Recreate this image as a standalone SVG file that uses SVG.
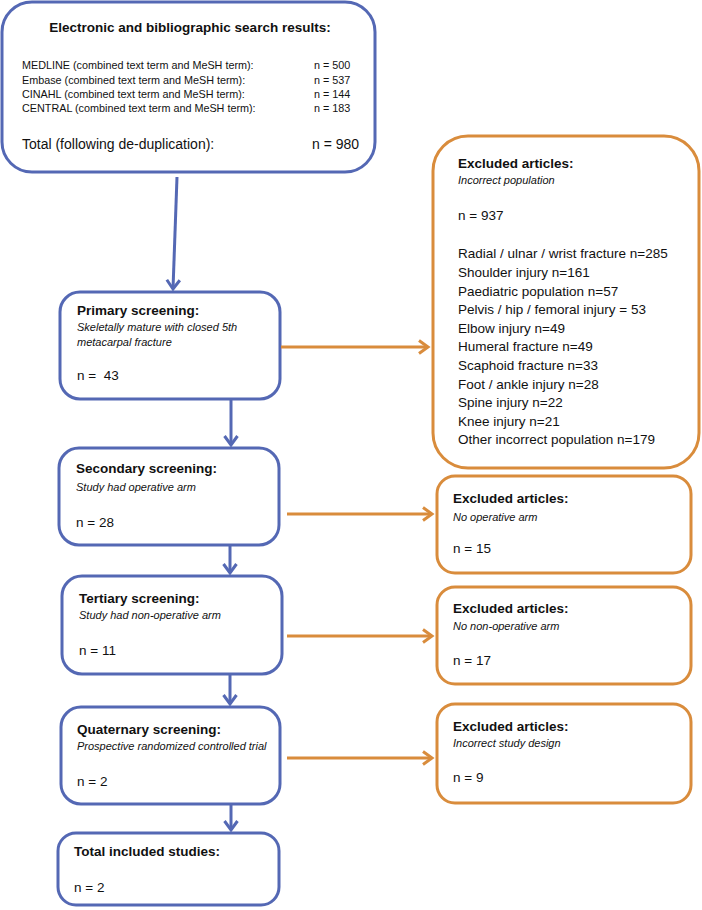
<svg xmlns="http://www.w3.org/2000/svg" width="702" height="910" viewBox="0 0 702 910">
<defs>
<style>
text{font-family:"Liberation Sans",Arial,sans-serif;fill:#111}
.b{fill:none;stroke:#5468b4;stroke-width:3}
.o{fill:none;stroke:#d98c3c;stroke-width:3}
.t{font-weight:bold;font-size:13.5px}
.i{font-style:italic;font-size:11px}
.n{font-size:13.5px}
.s{font-size:10.8px}
.cb{stroke:#5468b4;stroke-width:3;fill:none}
.co{stroke:#d98c3c;stroke-width:3;fill:none}
</style>
<marker id="ab" markerUnits="userSpaceOnUse" markerWidth="18" markerHeight="18" viewBox="0 0 18 18" refX="13" refY="9" orient="auto">
<path d="M4,2.5 L13,9 L4,15.5" fill="none" stroke="#5468b4" stroke-width="3"/>
</marker>
<marker id="ao" markerUnits="userSpaceOnUse" markerWidth="18" markerHeight="18" viewBox="0 0 18 18" refX="13" refY="9" orient="auto">
<path d="M4,2.5 L13,9 L4,15.5" fill="none" stroke="#d98c3c" stroke-width="3"/>
</marker>
</defs>
<rect width="702" height="910" fill="#fff"/>

<g id="search">
<rect class="b" x="2" y="2" width="373" height="170" rx="30"/>
<text class="t" x="190" y="32" text-anchor="middle">Electronic and bibliographic search results:</text>
<text class="s" x="22" y="69">MEDLINE (combined text term and MeSH term):</text>
<text class="s" x="314" y="69">n = 500</text>
<text class="s" x="22" y="84">Embase (combined text term and MeSH term):</text>
<text class="s" x="314" y="84">n = 537</text>
<text class="s" x="22" y="98">CINAHL (combined text term and MeSH term):</text>
<text class="s" x="314" y="98">n = 144</text>
<text class="s" x="22" y="112">CENTRAL (combined text term and MeSH term):</text>
<text class="s" x="314" y="112">n = 183</text>
<text x="22" y="149" font-size="14">Total (following de-duplication):</text>
<text x="312" y="149" font-size="14">n = 980</text>
</g>

<g id="primary">
<rect class="b" x="60" y="292" width="220" height="107" rx="20"/>
<text class="t" x="77" y="315">Primary screening:</text>
<text class="i" x="77" y="331">Skeletally mature with closed 5th</text>
<text class="i" x="77" y="346">metacarpal fracture</text>
<text class="n" x="77" y="380" xml:space="preserve">n =  43</text>
</g>

<g id="excl1">
<rect class="o" x="433" y="136" width="266" height="332" rx="35"/>
<text class="t" x="458" y="168">Excluded articles:</text>
<text class="i" x="458" y="184">Incorrect population</text>
<text class="n" x="458" y="220">n = 937</text>
<text class="n" x="458" y="258">Radial / ulnar / wrist fracture n=285</text>
<text class="n" x="458" y="277">Shoulder injury n=161</text>
<text class="n" x="458" y="296">Paediatric population n=57</text>
<text class="n" x="458" y="314">Pelvis / hip / femoral injury = 53</text>
<text class="n" x="458" y="333">Elbow injury n=49</text>
<text class="n" x="458" y="351">Humeral fracture n=49</text>
<text class="n" x="458" y="370">Scaphoid fracture n=33</text>
<text class="n" x="458" y="389">Foot / ankle injury n=28</text>
<text class="n" x="458" y="407">Spine injury n=22</text>
<text class="n" x="458" y="426">Knee injury n=21</text>
<text class="n" x="458" y="444">Other incorrect population n=179</text>
</g>

<g id="secondary">
<rect class="b" x="59" y="448" width="220" height="97" rx="20"/>
<text class="t" x="76" y="473">Secondary screening:</text>
<text class="i" x="76" y="491">Study had operative arm</text>
<text class="n" x="76" y="527">n = 28</text>
</g>

<g id="excl2">
<rect class="o" x="437" y="476" width="254" height="97" rx="18"/>
<text class="t" x="453" y="503">Excluded articles:</text>
<text class="i" x="453" y="521">No operative arm</text>
<text class="n" x="453" y="553">n = 15</text>
</g>

<g id="tertiary">
<rect class="b" x="62" y="576" width="220" height="98" rx="20"/>
<text class="t" x="79" y="603">Tertiary screening:</text>
<text class="i" x="79" y="619">Study had non-operative arm</text>
<text class="n" x="79" y="655">n = 11</text>
</g>

<g id="excl3">
<rect class="o" x="437" y="587" width="254" height="97" rx="18"/>
<text class="t" x="453" y="613">Excluded articles:</text>
<text class="i" x="453" y="630">No non-operative arm</text>
<text class="n" x="453" y="665">n = 17</text>
</g>

<g id="quaternary">
<rect class="b" x="61" y="707" width="219" height="97" rx="20"/>
<text class="t" x="77" y="734">Quaternary screening:</text>
<text class="i" x="77" y="750">Prospective randomized controlled trial</text>
<text class="n" x="77" y="786">n = 2</text>
</g>

<g id="excl4">
<rect class="o" x="437" y="704" width="254" height="99" rx="18"/>
<text class="t" x="453" y="731">Excluded articles:</text>
<text class="i" x="453" y="747">Incorrect study design</text>
<text class="n" x="453" y="782">n = 9</text>
</g>

<g id="total">
<rect class="b" x="58" y="833" width="221" height="72" rx="18"/>
<text class="t" x="74" y="856">Total included studies:</text>
<text class="n" x="74" y="892">n = 2</text>
</g>

<g id="connectors">
<line class="cb" x1="177" y1="177" x2="173" y2="289" marker-end="url(#ab)"/>
<line class="cb" x1="231" y1="400" x2="231" y2="445" marker-end="url(#ab)"/>
<line class="cb" x1="230" y1="546" x2="230" y2="573" marker-end="url(#ab)"/>
<line class="cb" x1="230" y1="675" x2="230" y2="704" marker-end="url(#ab)"/>
<line class="cb" x1="231" y1="805" x2="231" y2="830" marker-end="url(#ab)"/>
<line class="co" x1="281" y1="347" x2="428" y2="347" marker-end="url(#ao)"/>
<line class="co" x1="287" y1="514" x2="432" y2="514" marker-end="url(#ao)"/>
<line class="co" x1="287" y1="636" x2="432" y2="636" marker-end="url(#ao)"/>
<line class="co" x1="287" y1="758" x2="432" y2="758" marker-end="url(#ao)"/>
</g>
</svg>
